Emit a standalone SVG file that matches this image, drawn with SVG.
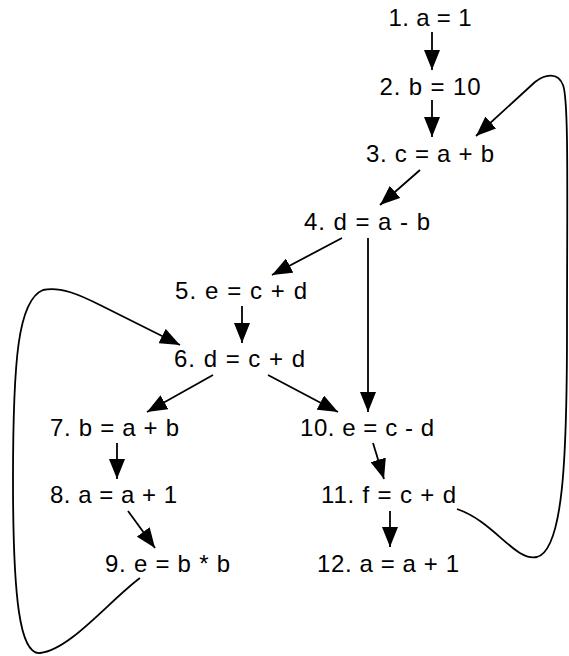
<svg xmlns="http://www.w3.org/2000/svg" width="569" height="656" viewBox="0 0 569 656">
<style>
text{font-family:"Liberation Sans",Arial,Helvetica,sans-serif;font-size:24px;fill:#000;text-anchor:middle}
.e{fill:none;stroke:#000;stroke-width:1.8;marker-end:url(#ah)}
</style>
<defs>
<marker id="ah" markerUnits="userSpaceOnUse" markerWidth="20" markerHeight="16" refX="20" refY="8" orient="auto" viewBox="0 0 20 16">
<path d="M0,0 L20,8 L0,16 z" fill="#000"/>
</marker>
</defs>
<g id="edges">
<path class="e" d="M432,32 L432,70"/>
<path class="e" d="M432,100 L432,137"/>
<path class="e" d="M457,509 C495,522 515,562 537,557 C563,550 567,460 567,330 C567,200 569,100 563,85 C558,72 545,74 535,82 L476,136"/>
<path class="e" d="M420,170 L380,205"/>
<path class="e" d="M342,238 L272,275"/>
<path class="e" d="M368,238 L368,412"/>
<path class="e" d="M242,306 L242,343"/>
<path class="e" d="M140,578 C110,600 70,650 40,653 C20,655 13,600 13,480 C13,360 18,300 43,290 C60,286 80,295 100,305 L180,345"/>
<path class="e" d="M213,375 L147,412"/>
<path class="e" d="M268,375 L338,412"/>
<path class="e" d="M117,443 L117,479"/>
<path class="e" d="M128,511 L155,548"/>
<path class="e" d="M373,443 L384,479"/>
<path class="e" d="M390,511 L390,547"/>
</g>
<g id="n1"><text x="430" y="26" textLength="83">1. a = 1</text></g>
<g id="n2"><text x="430" y="95" textLength="101">2. b = 10</text></g>
<g id="n3"><text x="430" y="162" textLength="128">3. c = a + b</text></g>
<g id="n4"><text x="367" y="230" textLength="126">4. d = a - b</text></g>
<g id="n5"><text x="241" y="299" textLength="132">5. e = c + d</text></g>
<g id="n6"><text x="239.5" y="367" textLength="131">6. d = c + d</text></g>
<g id="n7"><text x="114.5" y="436" textLength="129">7. b = a + b</text></g>
<g id="n8"><text x="113.5" y="503" textLength="127">8. a = a + 1</text></g>
<g id="n9"><text x="167.5" y="572" textLength="125">9. e = b * b</text></g>
<g id="n10"><text x="367" y="436" textLength="134">10. e = c - d</text></g>
<g id="n11"><text x="388.5" y="503" textLength="135">11. f = c + d</text></g>
<g id="n12"><text x="388" y="572" textLength="142">12. a = a + 1</text></g>
</svg>
